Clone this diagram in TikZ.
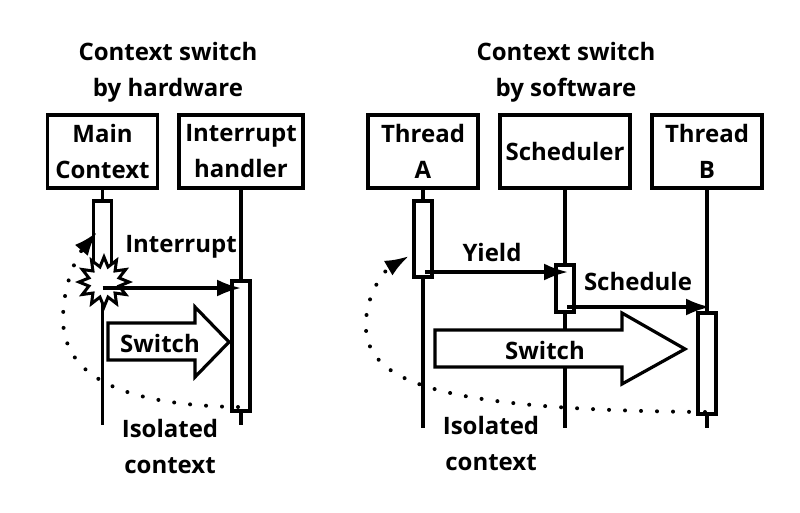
\documentclass[tikz,border=0pt]{standalone}
\usepackage{fontspec}
\setmainfont{Open Sans}
\usetikzlibrary{arrows.meta,shapes.geometric}
\begin{document}
\begin{tikzpicture}[x=1pt,y=-1pt,
  txt/.style={font=\fontsize{24}{36}\selectfont\bfseries, align=center, inner sep=0pt},
  hdr/.style={draw, line width=3.5pt, minimum width=#1, minimum height=73pt, txt},
  life/.style={line width=3.2pt},
  act/.style={draw, fill=white, line width=3.2pt, minimum width=18pt, inner sep=0pt},
  bigtip/.style={-{Latex[length=24pt,width=17pt]}},
  msg/.style={line width=3.2pt, bigtip},
  bigarr/.style={draw, fill=white, line width=3.2pt, line join=miter},
  dots/.style={line width=4pt, line cap=round, dash pattern=on 0pt off 16pt, bigtip},
  bang/.style={draw, fill=white, line width=3pt, star, star points=12, star point ratio=1.6, minimum size=50pt, inner sep=0pt}
]
\useasboundingbox (0,0) rectangle (800,512);

% ---------- left: hardware ----------
\node[txt] (t1) at (168,72) {Context switch\\by hardware};
\node[hdr=110pt] (mc) at (102.5,151.5) {Main\\Context};
\node[hdr=124pt] (ih) at (241,151.5) {Interrupt\\handler};
\coordinate (mcend) at (102.5,425);
\coordinate (ihend) at (241,425);
\draw[life] (mc.south) -- (mcend);
\draw[life] (ih.south) -- (ihend);
\node[act, minimum height=87pt] (a1) at (102.5,244.5) {};
\node[act, minimum height=130pt] (a2) at (241,346) {};
\node[bang] (star) at (104,282) {};
\coordinate (intsrc) at (102.5,288);
\coordinate (intdst) at (241,288);
\draw[msg] (intsrc) -- (intdst);
\node[txt] (intl) at (181,247) {Interrupt};
\draw[bigarr] (108,323) -- (195,323) -- (195,307) -- (229,342) -- (195,377) -- (195,360) -- (108,360) -- cycle;
\node[txt] (sw1) at (160,343) {Switch};
\coordinate (d1s) at (238,407);
\coordinate (d1e) at (97,232);
\draw[dots] (d1s) .. controls (110,405) and (64,370) .. (63,320) .. controls (63,280) and (80,252) .. (d1e);
\node[txt] (iso1) at (170,446) {Isolated\\context};

% ---------- right: software ----------
\node[txt] (t2) at (566,72) {Context switch\\by software};
\node[hdr=110pt] (ta) at (423,151.5) {Thread\\A};
\node[hdr=130pt] (sc) at (565,151.5) {Scheduler};
\node[hdr=110pt] (tb) at (707,151.5) {Thread\\B};
\coordinate (taend) at (423,428);
\coordinate (scend) at (565,428);
\coordinate (tbend) at (707,428);
\draw[life] (ta.south) -- (taend);
\draw[life] (sc.south) -- (scend);
\draw[life] (tb.south) -- (tbend);
\node[act, minimum height=76pt] (aa) at (423,239) {};
\node[act, minimum height=47pt] (as) at (565,288.5) {};
\node[act, minimum height=101pt] (ab) at (707,363.5) {};
\coordinate (ysrc) at (425,272);
\coordinate (ydst) at (568,272);
\draw[msg] (ysrc) -- (ydst);
\node[txt] (yl) at (492,252) {Yield};
\coordinate (ssrc) at (567,307);
\coordinate (sdst) at (710,307);
\draw[msg] (ssrc) -- (sdst);
\node[txt] (sl) at (638,281) {Schedule};
\draw[bigarr] (435,330) -- (622,330) -- (622,313) -- (685,349) -- (622,384) -- (622,367) -- (435,367) -- cycle;
\node[txt] (sw2) at (545,350) {Switch};
\coordinate (d2s) at (705,412);
\coordinate (d2e) at (409,256);
\draw[dots] (d2s) .. controls (450,410) and (370,385) .. (366,330) .. controls (364,295) and (385,270) .. (d2e);
\node[txt] (iso2) at (491,443) {Isolated\\context};
\end{tikzpicture}
\end{document}
